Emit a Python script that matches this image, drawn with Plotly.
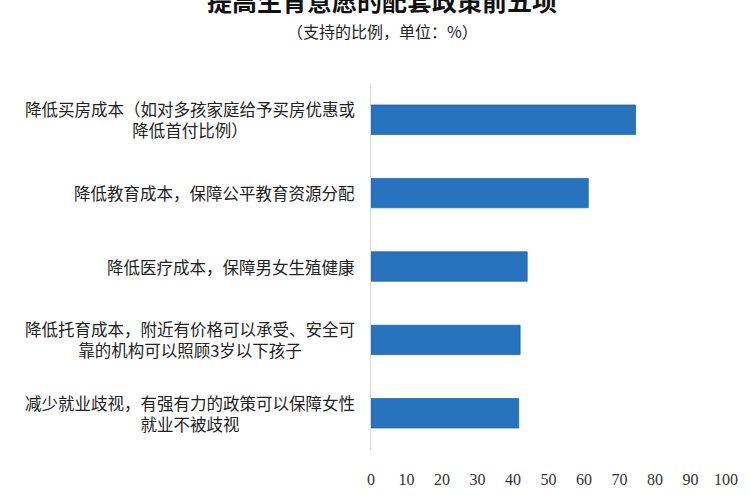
import plotly.graph_objects as go

# 政策项目（从上到下）
categories = [
    "降低买房成本（如对多孩家庭给予买房优惠或<br>降低首付比例）",
    "降低教育成本，保障公平教育资源分配",
    "降低医疗成本，保障男女生殖健康",
    "降低托育成本，附近有价格可以承受、安全可<br>靠的机构可以照顾3岁以下孩子",
    "减少就业歧视，有强有力的政策可以保障女性<br>就业不被歧视",
]
support = [74.5, 61.2, 44.0, 42.0, 41.6]
x_ticks = list(range(0, 101, 10))

cjk = "Noto Sans CJK SC"
bar_color = "#2873bd"

fig = go.Figure()
fig.add_trace(go.Bar(
    x=support, y=categories, orientation="h",
    marker=dict(color=bar_color, line=dict(color="#1f64a8", width=0.8)),
    width=0.4, showlegend=False,
))

# 左侧标签用注释，多行居中
for c in categories:
    fig.add_annotation(
        x=0, xref="paper", y=c, yref="y", text=c, showarrow=False,
        xanchor="right", align="center", xshift=-14,
        font=dict(family=cjk, size=16.5, color="#222222"),
    )

# 标题和副标题
fig.add_annotation(
    x=0.031, xref="paper", y=1.226, yref="paper",
    xanchor="center", yanchor="middle",
    text="<b>提高生育意愿的配套政策前五项</b>", showarrow=False,
    font=dict(family=cjk, size=25, color="#111111"),
)
fig.add_annotation(
    x=0.031, xref="paper", y=1.143, yref="paper",
    xanchor="center", yanchor="middle",
    text="（支持的比例，单位：%）", showarrow=False,
    font=dict(family=cjk, size=16, color="#222222"),
)

fig.update_layout(
    width=750, height=500,
    margin=dict(l=371, r=22, t=83, b=47),
    paper_bgcolor="white", plot_bgcolor="white",
)
fig.update_xaxes(
    range=[0, 100], tickvals=x_ticks, showgrid=False, zeroline=False,
    showline=False, ticks="", ticklabelstandoff=18,
    tickfont=dict(family="Liberation Serif", size=16, color="#333333"),
)
fig.update_yaxes(
    autorange="reversed", showticklabels=False, showgrid=False,
    showline=True, linecolor="#d9d9d9", linewidth=1, ticks="",
)

fig.write_html("out.html", config={"displayModeBar": False},
               post_script="document.body.style.margin='0';")
